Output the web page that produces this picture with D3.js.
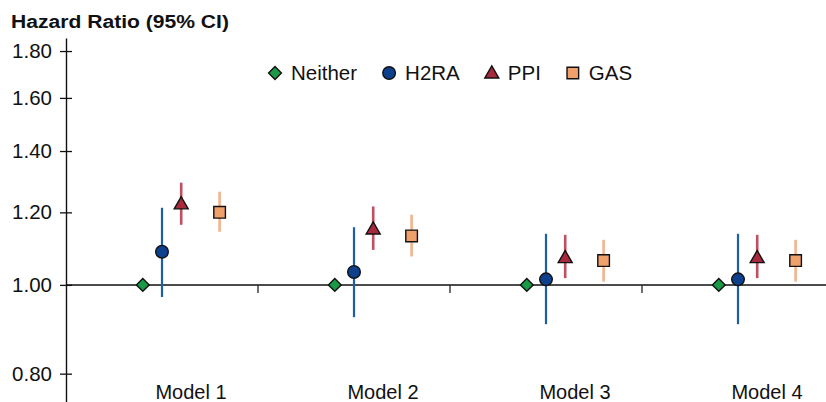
<!DOCTYPE html>
<html>
<head>
  <script src="https://cdnjs.cloudflare.com/ajax/libs/d3/7.8.5/d3.min.js"></script>
  <style>
    body { margin: 0; background: #fff; }
    text { font-family: "Liberation Sans", Arial, Helvetica, sans-serif; fill: #111; }
  </style>
</head>
<body>
  <div id="chart"></div>

  <script>
    const models = ['Model 1', 'Model 2', 'Model 3', 'Model 4'];
    const groups = ['Neither', 'H2RA', 'PPI', 'GAS'];
    const yTicks = [0.8, 1.0, 1.2, 1.4, 1.6, 1.8];

    // hazard ratio, lower and upper 95% CI per model
    const neither = [1.00, 1.00, 1.00, 1.00];
    const h2ra = [1.087, 1.033, 1.014, 1.014];
    const h2raLo = [0.970, 0.922, 0.906, 0.906];
    const h2raHi = [1.214, 1.156, 1.137, 1.137];
    const ppi = [1.226, 1.151, 1.071, 1.071];
    const ppiLo = [1.163, 1.092, 1.017, 1.017];
    const ppiHi = [1.293, 1.218, 1.134, 1.134];
    const gas = [1.200, 1.131, 1.063, 1.063];
    const gasLo = [1.143, 1.074, 1.008, 1.008];
    const gasHi = [1.264, 1.193, 1.120, 1.120];

    const width = 826;
    const height = 402;

    const styles = {
      Neither: { fill: '#1a9a46', line: null, shape: d3.symbolDiamond2 },
      H2RA: { fill: '#0c3f8c', line: '#1f5eaa', shape: d3.symbolCircle },
      PPI: { fill: '#a8283d', line: '#c24f60', shape: d3.symbolTriangle },
      GAS: { fill: '#f0a06a', line: '#f4b38a', shape: d3.symbolSquare }
    };
    const slot = { Neither: -1, H2RA: 0, PPI: 1, GAS: 3 };
    const sizes = { Neither: 105, H2RA: 125, PPI: 85, GAS: 135 };

    const series = [
      { key: 'Neither', v: neither, lo: null, hi: null },
      { key: 'H2RA', v: h2ra, lo: h2raLo, hi: h2raHi },
      { key: 'PPI', v: ppi, lo: ppiLo, hi: ppiHi },
      { key: 'GAS', v: gas, lo: gasLo, hi: gasHi }
    ];

    const svg = d3.select('#chart').append('svg')
      .attr('width', width)
      .attr('height', height);

    const x = d3.scaleBand().domain(models).range([66, 834]).padding(0);
    const y = d3.scaleLog().domain([0.745, 1.86]).range([402, 38]);
    const step = x.bandwidth() / 10;

    // title
    svg.append('text')
      .attr('x', 11).attr('y', 28)
      .attr('font-size', 18).attr('font-weight', 'bold')
      .attr('textLength', 218).attr('lengthAdjust', 'spacingAndGlyphs')
      .text('Hazard Ratio (95% CI)');

    // y axis
    const yAxis = svg.append('g')
      .attr('transform', 'translate(66,0)')
      .call(d3.axisLeft(y).tickValues(yTicks).tickFormat(d3.format('.2f'))
        .tickSizeOuter(0).tickSizeInner(6).tickPadding(8));
    yAxis.select('.domain').attr('stroke', '#111').attr('stroke-width', 1.4);
    yAxis.selectAll('.tick line').attr('x1', 6).attr('stroke', '#111').attr('stroke-width', 1.3);
    yAxis.selectAll('.tick text')
      .attr('font-size', 20.5).attr('font-family', '"Liberation Sans", Arial, sans-serif').attr('fill', '#111');

    // reference line at HR = 1
    svg.append('line')
      .attr('x1', 66).attr('x2', width)
      .attr('y1', y(1)).attr('y2', y(1))
      .attr('stroke', '#111').attr('stroke-width', 1.5);

    // band separators
    svg.append('g').selectAll('line')
      .data(models.slice(1))
      .join('line')
      .attr('x1', d => x(d)).attr('x2', d => x(d))
      .attr('y1', y(1)).attr('y2', y(1) + 8)
      .attr('stroke', '#333').attr('stroke-width', 1.4);

    // category labels
    svg.append('g').selectAll('text')
      .data(models)
      .join('text')
      .attr('x', d => x(d) + x.bandwidth() / 2 + 29)
      .attr('y', 399)
      .attr('text-anchor', 'middle')
      .attr('font-size', 20)
      .text(d => d);

    const cx = (key, i) => x(models[i]) + x.bandwidth() / 2 + slot[key] * step;

    // error bars
    series.filter(s => s.lo).forEach(s => {
      svg.append('g').selectAll('line')
        .data(models)
        .join('line')
        .attr('x1', (d, i) => cx(s.key, i)).attr('x2', (d, i) => cx(s.key, i))
        .attr('y1', (d, i) => y(s.lo[i])).attr('y2', (d, i) => y(s.hi[i]))
        .attr('stroke', styles[s.key].line)
        .attr('stroke-width', s.key === 'H2RA' ? 2.2 : 2.6);
    });

    // point estimates
    series.forEach(s => {
      const sym = d3.symbol().type(styles[s.key].shape).size(sizes[s.key]);
      svg.append('g').selectAll('path')
        .data(models)
        .join('path')
        .attr('d', sym)
        .attr('transform', (d, i) => {
          const dy = s.key === 'PPI' ? 1 : 0;
          return `translate(${cx(s.key, i)},${y(s.v[i]) + dy})`;
        })
        .attr('fill', styles[s.key].fill)
        .attr('stroke', '#111')
        .attr('stroke-width', 1.4);
    });

    // legend
    const legend = svg.append('g').attr('transform', 'translate(275,73)');
    let lx = 0;
    groups.forEach(g => {
      const item = legend.append('g').attr('transform', `translate(${lx},0)`);
      item.append('path')
        .attr('d', d3.symbol().type(styles[g].shape).size(sizes[g])())
        .attr('transform', g === 'PPI' ? 'translate(0,1)' : null)
        .attr('fill', styles[g].fill)
        .attr('stroke', '#111')
        .attr('stroke-width', 1.4);
      const t = item.append('text')
        .attr('x', 16).attr('y', 7)
        .attr('font-size', 20.5)
        .text(g);
      lx += 16 + t.node().getComputedTextLength() + 32;
    });
  </script>
</body>
</html>
